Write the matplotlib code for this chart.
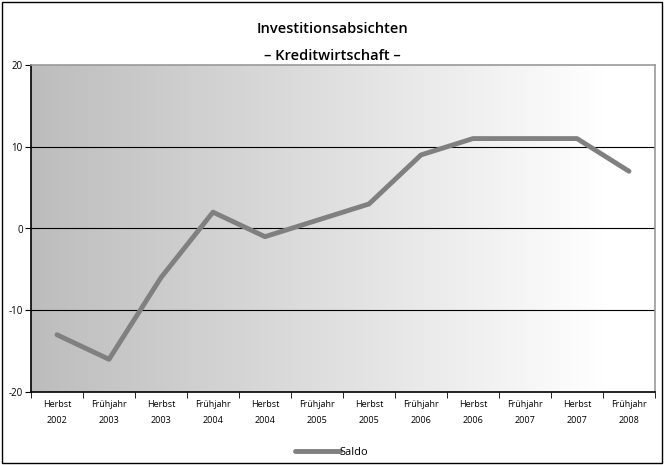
import matplotlib
matplotlib.use("Agg")
import matplotlib.pyplot as plt
import numpy as np
from matplotlib.patches import Rectangle

categories = ["Herbst\n2002", "Frühjahr\n2003", "Herbst\n2003", "Frühjahr\n2004",
              "Herbst\n2004", "Frühjahr\n2005", "Herbst\n2005", "Frühjahr\n2006",
              "Herbst\n2006", "Frühjahr\n2007", "Herbst\n2007", "Frühjahr\n2008"]
saldo = [-13, -16, -6, 2, -1, 1, 3, 9, 11, 11, 11, 7]
yticks = [-20, -10, 0, 10, 20]

plt.rcParams['font.family'] = ['Open Sans', 'DejaVu Sans']

fig = plt.figure(figsize=(6.64, 4.65), dpi=100)
fig.patches.append(Rectangle((0.003, 0.004), 0.994, 0.992, transform=fig.transFigure,
                             fill=False, edgecolor='black', linewidth=1.0))
ax = fig.add_axes([31/664, 73/465, 624/664, 327/465])

n = len(categories)
x = np.arange(n)
ax.set_xlim(-0.5, n - 0.5)
ax.set_ylim(-20, 20)

grad = np.linspace(0, 1, 256)
grad = np.clip(grad / 0.92, 0, 1)
g = 0.74 + 0.26 * grad
img = np.stack([g, g, g], axis=-1)[None, :, :].repeat(2, axis=0)
ax.imshow(img, extent=[-0.5, n - 0.5, -20, 20], aspect='auto', zorder=0)

for yv in [-10, 0, 10]:
    ax.axhline(yv, color='black', linewidth=0.8, zorder=1)

ax.plot(x, saldo, color='#808080', linewidth=3.5, solid_capstyle='round',
        solid_joinstyle='round', label='Saldo', zorder=3)

ax.set_yticks(yticks)
ax.set_yticklabels([str(v) for v in yticks], fontsize=7)
ax.set_xticks(x)
ax.set_xticklabels(categories, fontsize=6.5, linespacing=2.0)
ax.set_xticks(np.arange(-0.5, n, 1), minor=True)
ax.tick_params(axis='x', which='major', length=0, pad=6)
ax.tick_params(axis='x', which='minor', length=4, direction='out')
ax.tick_params(axis='y', length=4, direction='out', pad=2)

for s in ['left', 'bottom']:
    ax.spines[s].set_color('black')
    ax.spines[s].set_linewidth(1.2)
for s in ['top', 'right']:
    ax.spines[s].set_color('#999999')
    ax.spines[s].set_linewidth(1.2)

fig.text(0.5, 0.937, "Investitionsabsichten", ha='center', va='center', fontsize=10.5, fontweight='semibold')
fig.text(0.5, 0.88, "– Kreditwirtschaft –", ha='center', va='center', fontsize=10.5, fontweight='semibold')

leg = fig.legend(loc='center', bbox_to_anchor=(0.5, 0.027), frameon=False, fontsize=8,
                 handlelength=4, handletextpad=0.0)

fig.savefig("out.png", dpi=100)
